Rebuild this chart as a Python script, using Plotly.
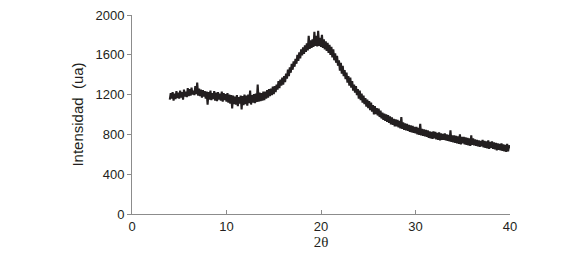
import numpy as np
import plotly.graph_objects as go

two_theta_start = 4.0
two_theta_end = 40.0
intensity = [
    1150, 1215, 1160, 1225, 1140, 1210, 1155, 1235, 1165, 1220,
    1160, 1240, 1170, 1225, 1150, 1250, 1180, 1230, 1175, 1265,
    1185, 1255, 1190, 1270, 1200, 1240, 1195, 1285, 1205, 1320,
    1190, 1260, 1185, 1250, 1170, 1245, 1180, 1235, 1160, 1230,
    1100, 1225, 1150, 1240, 1145, 1215, 1155, 1235, 1140, 1220,
    1135, 1225, 1150, 1210, 1140, 1230, 1130, 1215, 1145, 1205,
    1130, 1215, 1120, 1200, 1110, 1195, 1060, 1190, 1105, 1180,
    1100, 1195, 1085, 1175, 1110, 1190, 1050, 1185, 1095, 1200,
    1105, 1190, 1090, 1200, 1115, 1240, 1100, 1195, 1120, 1205,
    1115, 1210, 1125, 1300, 1130, 1220, 1135, 1215, 1140, 1230,
    1145, 1230, 1160, 1245, 1170, 1255, 1185, 1260, 1195, 1280,
    1205, 1285, 1225, 1300, 1250, 1335, 1265, 1350, 1290, 1370,
    1300, 1385, 1325, 1410, 1360, 1450, 1385, 1475, 1420, 1510,
    1450, 1535, 1480, 1560, 1510, 1600, 1540, 1625, 1565, 1655,
    1595, 1675, 1610, 1695, 1630, 1715, 1645, 1790, 1660, 1745,
    1670, 1755, 1680, 1830, 1690, 1790, 1685, 1840, 1690, 1770,
    1680, 1800, 1670, 1755, 1655, 1735, 1640, 1720, 1620, 1700,
    1600, 1680, 1575, 1655, 1545, 1615, 1520, 1590, 1490, 1545,
    1440, 1520, 1410, 1490, 1385, 1445, 1355, 1420, 1320, 1385,
    1290, 1370, 1270, 1335, 1240, 1300, 1220, 1285, 1195, 1255,
    1160, 1240, 1145, 1210, 1120, 1190, 1105, 1165, 1080, 1150,
    1065, 1135, 1045, 1120, 1030, 1095, 1000, 1085, 1005, 1065,
    990, 1060, 975, 1040, 960, 1020, 945, 1010, 935, 1000,
    925, 995, 915, 980, 900, 970, 895, 955, 880, 950,
    880, 945, 870, 935, 860, 975, 855, 920, 845, 910,
    840, 905, 835, 895, 825, 890, 820, 885, 815, 875,
    810, 875, 800, 865, 795, 905, 790, 855, 785, 850,
    780, 845, 775, 840, 765, 830, 760, 825, 755, 830,
    760, 825, 750, 815, 745, 820, 740, 810, 745, 805,
    745, 810, 740, 800, 735, 795, 730, 840, 725, 790,
    720, 790, 715, 785, 710, 780, 705, 800, 700, 775,
    710, 775, 700, 770, 695, 765, 690, 760, 685, 790,
    695, 760, 690, 750, 685, 745, 680, 740, 675, 735,
    680, 745, 670, 735, 665, 730, 660, 740, 655, 725,
    665, 730, 655, 720, 650, 715, 640, 710, 645, 705,
    640, 710, 635, 700, 630, 695, 625, 705, 630, 690,
    660,
]
two_theta = np.round(np.linspace(two_theta_start, two_theta_end, len(intensity)), 1)

x_ticks = [0, 10, 20, 30, 40]
y_ticks = [0, 400, 800, 1200, 1600, 2000]

fig = go.Figure()
fig.add_trace(go.Scatter(
    x=two_theta, y=intensity, mode="lines",
    line=dict(color="#231f20", width=2.1),
    showlegend=False,
))

axis_col = "#8c8c8c"
fig.update_layout(
    width=580, height=261,
    margin=dict(l=124, r=78, t=7, b=55, autoexpand=False),
    paper_bgcolor="white", plot_bgcolor="white",
    font=dict(family="Liberation Sans, Arial, sans-serif", size=13, color="#231f20"),
    xaxis=dict(
        range=[0, 40], tickvals=x_ticks, ticktext=[str(v) for v in x_ticks],
        showline=True, linecolor=axis_col, linewidth=1,
        ticks="inside", ticklen=4, tickcolor=axis_col,
        showgrid=False, zeroline=False, automargin=False,
        title=dict(text="2θ", font=dict(family="Liberation Serif, Times New Roman, serif", size=15), standoff=0),
    ),
    yaxis=dict(
        range=[0, 2000], tickvals=y_ticks, ticktext=[str(v) for v in y_ticks],
        showline=True, linecolor=axis_col, linewidth=1,
        ticks="outside", ticklen=4, tickcolor=axis_col,
        ticklabeloverflow="allow",
        showgrid=False, zeroline=False, automargin=False,
        title=dict(text="Intensidad  (ua)", font=dict(size=15), standoff=8),
    ),
)

fig.write_html("out.html")
